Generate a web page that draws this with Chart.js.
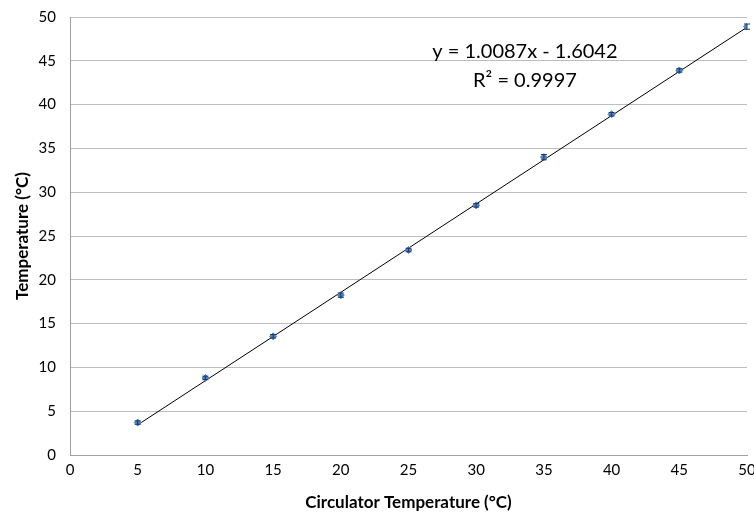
<!DOCTYPE html>
<html>
<head>
<meta charset="utf-8">
<script src="https://cdn.jsdelivr.net/npm/chart.js@4.4.0/dist/chart.umd.min.js"></script>
<style>
  html, body { margin: 0; padding: 0; background: #fff; }
  #wrap { width: 754px; height: 517px; }
</style>
</head>
<body>
<div id="wrap"><canvas id="chart"></canvas></div>
<script>
'use strict';

// circulator set point vs measured temperature
let setPoints = [5, 10, 15, 20, 25, 30, 35, 40, 45, 50];
let measured = [3.7, 8.8, 13.55, 18.25, 23.4, 28.5, 34.0, 38.9, 43.9, 48.9];
let errors = [0.2, 0.2, 0.2, 0.25, 0.2, 0.2, 0.3, 0.2, 0.2, 0.3];

// linear fit shown on the chart
let slope = 1.0087;
let intercept = -1.6042;
let rSquared = '0.9997';
let fitLabel = 'y = 1.0087x - 1.6042';

let xTicks = [0, 5, 10, 15, 20, 25, 30, 35, 40, 45, 50];
let yTicks = [0, 5, 10, 15, 20, 25, 30, 35, 40, 45, 50];

let canvasElem = document.getElementById('chart');
let font = 'Lato, "Open Sans", sans-serif';
let blue = '#4F81BD';

let points = [];
for (let i = 0; i < setPoints.length; i++) {
  points.push({ x: setPoints[i], y: measured[i] });
}
let first = setPoints[0];
let last = setPoints[setPoints.length - 1];
let fitLine = [
  { x: first, y: slope * first + intercept },
  { x: last, y: slope * last + intercept }
];

// small vertical error bars with caps
const errorBars = {
  id: 'errorBars',
  afterDatasetsDraw(chart) {
    let ctx = chart.ctx;
    let xs = chart.scales.x;
    let ys = chart.scales.y;
    ctx.save();
    ctx.strokeStyle = '#1F3864';
    ctx.lineWidth = 1;
    for (let i = 0; i < setPoints.length; i++) {
      let px = xs.getPixelForValue(setPoints[i]);
      let top = ys.getPixelForValue(measured[i] + errors[i]);
      let bot = ys.getPixelForValue(measured[i] - errors[i]);
      ctx.beginPath();
      ctx.moveTo(px, top); ctx.lineTo(px, bot);
      ctx.moveTo(px - 3, top); ctx.lineTo(px + 3, top);
      ctx.moveTo(px - 3, bot); ctx.lineTo(px + 3, bot);
      ctx.stroke();
    }
    ctx.restore();
  }
};

// equation and R² text
const fitText = {
  id: 'fitText',
  afterDraw(chart) {
    let ctx = chart.ctx;
    let xs = chart.scales.x;
    let ys = chart.scales.y;
    let cx = xs.getPixelForValue(33.6);
    ctx.save();
    ctx.fillStyle = '#000';
    ctx.textAlign = 'center';
    ctx.textBaseline = 'middle';
    ctx.font = '20px ' + font;
    ctx.fillText(fitLabel, cx, ys.getPixelForValue(46.0));
    ctx.fillText('R² = ' + rSquared, cx, ys.getPixelForValue(42.8));
    ctx.restore();
  }
};

new Chart(canvasElem, {
  type: 'scatter',
  data: {
    datasets: [
      {
        label: 'Linear fit',
        data: fitLine,
        showLine: true,
        borderColor: '#000',
        borderWidth: 1,
        pointRadius: 0,
        order: 2
      },
      {
        label: 'Measured',
        data: points,
        pointStyle: 'rectRot',
        pointRadius: 3.5,
        backgroundColor: blue,
        borderColor: blue,
        order: 1
      }
    ]
  },
  options: {
    responsive: true,
    maintainAspectRatio: false,
    animation: false,
    layout: { padding: { top: 17, right: 7, left: 0, bottom: 0 } },
    plugins: {
      legend: { display: false },
      tooltip: { enabled: false }
    },
    scales: {
      x: {
        type: 'linear',
        min: 0,
        max: 50,
        afterBuildTicks(axis) { axis.ticks = xTicks.map(v => ({ value: v })); },
        afterFit(axis) {
          axis.height = 62;
          axis.paddingLeft = 0;
          axis.paddingRight = 0;
        },
        grid: { display: false, drawTicks: false },
        border: { color: '#a0a0a0' },
        ticks: { color: '#000', padding: 6, font: { family: font, size: 15 } },
        title: {
          display: true,
          text: 'Circulator Temperature (°C)',
          color: '#000',
          padding: { top: 10, bottom: 4 },
          font: { family: font, size: 17, weight: 'bold' }
        }
      },
      y: {
        type: 'linear',
        min: 0,
        max: 50,
        afterBuildTicks(axis) { axis.ticks = yTicks.map(v => ({ value: v })); },
        afterFit(axis) {
          axis.width = 70;
          axis.paddingTop = 0;
          axis.paddingBottom = 0;
        },
        grid: { color: '#bdbdbd', drawTicks: false },
        border: { color: '#a0a0a0' },
        ticks: { color: '#000', padding: 14, font: { family: font, size: 15 } },
        title: {
          display: true,
          text: 'Temperature (°C)',
          color: '#000',
          padding: { top: 12, bottom: 4 },
          font: { family: font, size: 17, weight: 'bold' }
        }
      }
    }
  },
  plugins: [errorBars, fitText]
});
</script>
</body>
</html>
